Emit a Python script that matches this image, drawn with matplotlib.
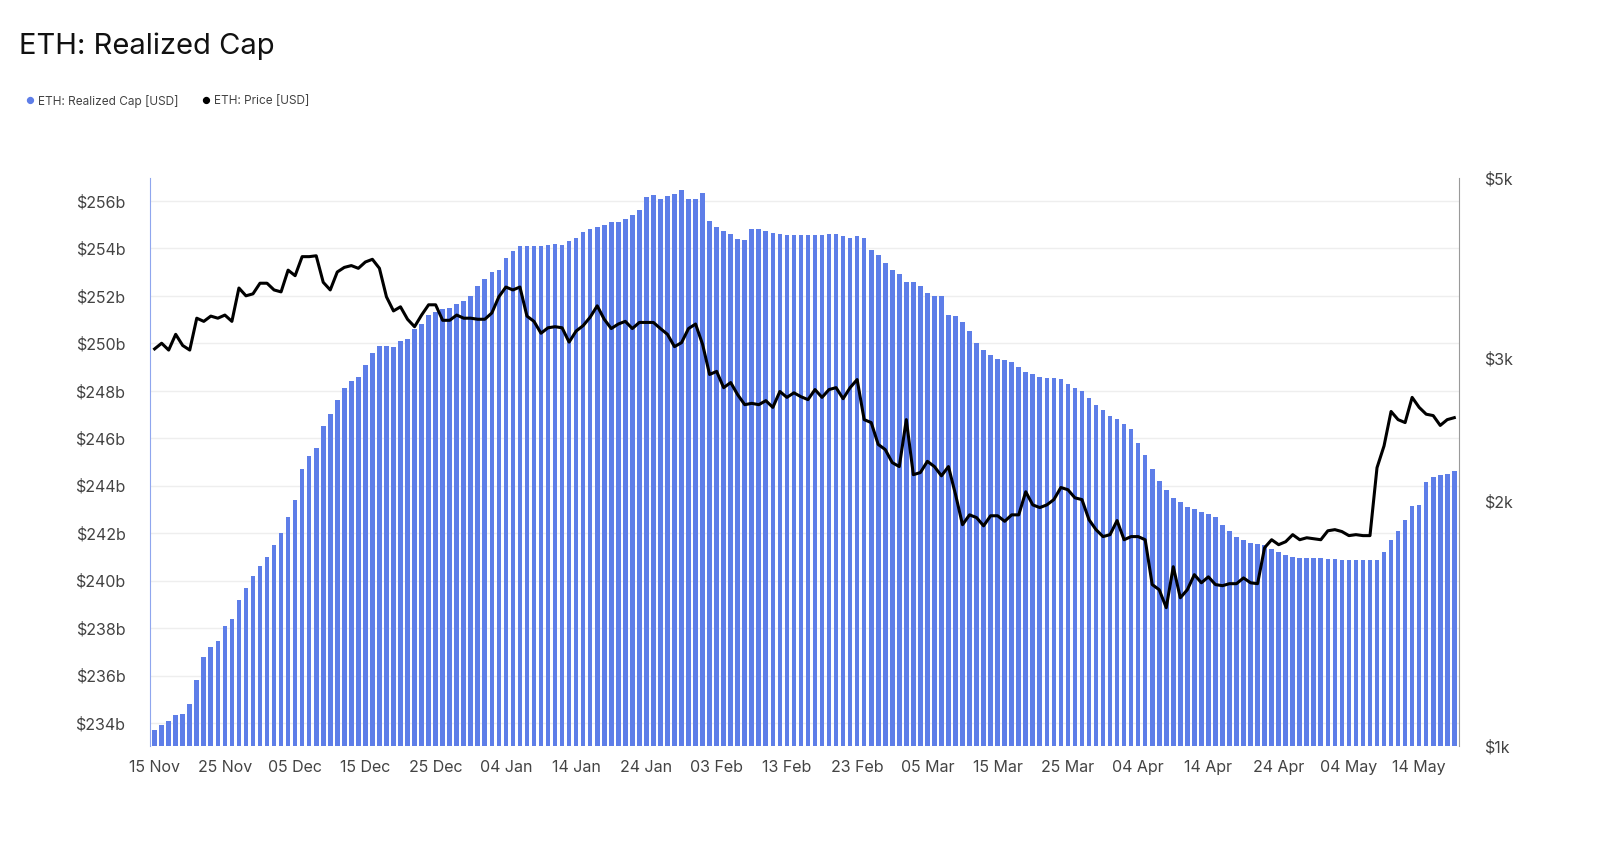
import matplotlib
matplotlib.use("Agg")
import matplotlib.pyplot as plt
import matplotlib.ticker as mticker
import numpy as np
import pandas as pd

plt.rcParams["font.family"] = "Inter"

# daily dates, 15 Nov 2024 .. 19 May 2025
dates = pd.date_range("2024-11-15", "2025-05-19", freq="D")

realized_cap_b = [
    233.7, 233.9, 234.1, 234.35, 234.4, 234.8, 235.8, 236.8, 237.2, 237.45,
    238.1, 238.4, 239.2, 239.7, 240.2, 240.6, 241.0, 241.5, 242.0, 242.7,
    243.4, 244.7, 245.25, 245.6, 246.5, 247.0, 247.6, 248.1, 248.4, 248.6,
    249.1, 249.6, 249.9, 249.9, 249.85, 250.1, 250.2, 250.6, 250.8, 251.2,
    251.3, 251.45, 251.5, 251.65, 251.8, 252.0, 252.4, 252.7, 253.0, 253.1,
    253.6, 253.9, 254.1, 254.1, 254.1, 254.1, 254.15, 254.2, 254.15, 254.3,
    254.45, 254.7, 254.8, 254.9, 255.0, 255.1, 255.1, 255.25, 255.4, 255.6,
    256.15, 256.25, 256.1, 256.2, 256.3, 256.45, 256.1, 256.1, 256.35, 255.15,
    254.9, 254.75, 254.6, 254.4, 254.35, 254.8, 254.8, 254.75, 254.65, 254.6,
    254.55, 254.55, 254.55, 254.55, 254.55, 254.55, 254.6, 254.6, 254.5, 254.45,
    254.5, 254.45, 253.95, 253.7, 253.4, 253.1, 252.9, 252.6, 252.6, 252.4,
    252.1, 252.0, 252.0, 251.2, 251.15, 250.9, 250.5, 250.0, 249.7, 249.5,
    249.35, 249.3, 249.2, 249.0, 248.8, 248.7, 248.6, 248.55, 248.55, 248.5,
    248.3, 248.1, 248.0, 247.7, 247.4, 247.2, 246.95, 246.8, 246.6, 246.4,
    245.8, 245.3, 244.7, 244.2, 243.8, 243.5, 243.3, 243.1, 243.0, 242.9,
    242.8, 242.7, 242.35, 242.1, 241.85, 241.7, 241.6, 241.55, 241.5, 241.35,
    241.2, 241.1, 241.0, 240.95, 240.95, 240.95, 240.95, 240.9, 240.9, 240.85,
    240.85, 240.85, 240.85, 240.85, 240.85, 241.2, 241.7, 242.1, 242.55, 243.15,
    243.2, 244.15, 244.35, 244.45, 244.5, 244.6,
]

price_usd = [
    3080, 3130, 3070, 3210, 3110, 3070, 3360, 3330, 3380, 3360,
    3390, 3330, 3660, 3580, 3600, 3710, 3710, 3640, 3620, 3850,
    3790, 4000, 4000, 4010, 3720, 3640, 3830, 3880, 3900, 3870,
    3940, 3970, 3870, 3570, 3430, 3470, 3350, 3280, 3390, 3490,
    3490, 3340, 3340, 3390, 3360, 3360, 3350, 3350, 3410, 3570,
    3670, 3640, 3670, 3380, 3330, 3220, 3270, 3280, 3270, 3140,
    3240, 3290, 3370, 3480, 3350, 3263, 3305, 3330, 3263, 3320,
    3320, 3320, 3263, 3210, 3100, 3135, 3263, 3305, 3120, 2865,
    2890, 2760, 2800, 2705, 2630, 2640, 2630, 2660, 2610, 2730,
    2685, 2720, 2690, 2668, 2745, 2685, 2745, 2760, 2675, 2760,
    2824, 2521, 2500, 2350, 2316, 2232, 2207, 2521, 2157, 2170,
    2240, 2207, 2150, 2207, 2040, 1872, 1925, 1910, 1866, 1920,
    1920, 1890, 1925, 1925, 2055, 1980, 1965, 1980, 2010, 2080,
    2067, 2020, 2010, 1899, 1846, 1810, 1820, 1894, 1794, 1810,
    1810, 1794, 1580, 1557, 1480, 1662, 1522, 1557, 1625, 1588,
    1615, 1580, 1575, 1584, 1584, 1610, 1588, 1584, 1754, 1794,
    1769, 1784, 1820, 1794, 1804, 1799, 1794, 1840, 1846, 1836,
    1815, 1820, 1815, 1815, 2200, 2340, 2580, 2521, 2500, 2685,
    2610, 2560, 2550, 2480, 2521, 2535,
]

cap_ticks = [234, 236, 238, 240, 242, 244, 246, 248, 250, 252, 254, 256]
price_ticks = [1000, 2000, 3000, 5000]
price_tick_labels = ["$1k", "$2k", "$3k", "$5k"]

BAR_COLOR = "#5e7ee8"
TEXT = "#444444"

x = np.arange(len(dates))

fig = plt.figure(figsize=(16, 8.43), dpi=100)
ax = fig.add_axes([0.094, 0.115, 0.818, 0.674])
ax2 = ax.twinx()

ax.bar(x, realized_cap_b, width=0.66, color=BAR_COLOR, zorder=2)
ax.set_ylim(233.03, 256.97)
ax.set_xlim(-0.6, len(x) - 0.3)
ax.set_yticks(cap_ticks)
ax.set_yticklabels([f"${v}b" for v in cap_ticks])
ax.grid(axis="y", color="#eeeeee", lw=1, zorder=0)
ax.set_axisbelow(True)

ax2.plot(x, price_usd, color="black", lw=2.2, zorder=3)
ax2.set_yscale("log")
ax2.set_ylim(1000, 5000)
ax2.yaxis.set_major_locator(mticker.FixedLocator(price_ticks))
ax2.yaxis.set_minor_locator(mticker.NullLocator())
ax2.set_yticklabels(price_tick_labels)

tick_idx = x[::10]
ax.set_xticks(tick_idx)
ax.set_xticklabels([dates[i].strftime("%d %b") for i in tick_idx])

for a in (ax, ax2):
    for s in ("top", "bottom"):
        a.spines[s].set_visible(False)
    a.tick_params(length=0, labelsize=11.5, colors=TEXT)
ax.spines["left"].set_color("#8fa6ee")
ax.spines["right"].set_visible(False)
ax2.spines["left"].set_visible(False)
ax2.spines["right"].set_color("#9a9a9a")
ax.tick_params(axis="y", pad=18)
ax2.tick_params(axis="y", pad=18)
ax.tick_params(axis="x", pad=10)

fig.text(0.012, 0.945, "ETH: Realized Cap", fontsize=21, color="#111111", va="center")
fig.text(0.016, 0.880, "\u25cf", fontsize=7, color=BAR_COLOR, va="center")
fig.text(0.024, 0.880, "ETH: Realized Cap [USD]", fontsize=8.5, color=TEXT, va="center")
fig.text(0.126, 0.880, "\u25cf", fontsize=7, color="black", va="center")
fig.text(0.134, 0.880, "ETH: Price [USD]", fontsize=8.5, color=TEXT, va="center")

fig.savefig("out.png", dpi=100)
